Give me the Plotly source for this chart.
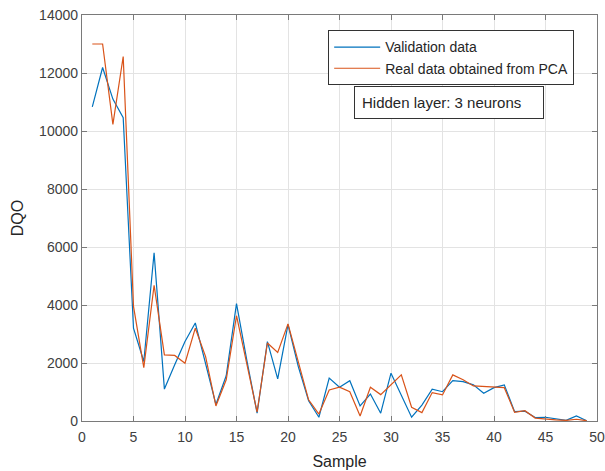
import plotly.graph_objects as go

samples = list(range(1, 50))
validation = [10830, 12190, 11100, 10460, 3200, 2050, 5800, 1100, 1940, 2740,
              3380, 2000, 570, 1560, 4045, 2100, 270, 2740, 1450, 3320,
              1880, 700, 130, 1480, 1165, 1390, 520, 930, 270, 1650,
              900, 130, 550, 1095, 1010, 1390, 1360, 1245, 960, 1150,
              1245, 320, 340, 120, 130, 80, 20, 175, 10]
real_pca = [13000, 13000, 10230, 12570, 3950, 1840, 4680, 2280, 2260, 1990,
            3200, 2220, 520, 1420, 3630, 1940, 310, 2690, 2360, 3350,
            2050, 730, 240, 1070, 1165, 1010, 175, 1165, 910, 1245,
            1590, 475, 290, 980, 900, 1590, 1420, 1210, 1190, 1150,
            1150, 300, 356, 100, 60, 40, 20, 60, 10]
x_ticks = list(range(0, 51, 5))
y_ticks = list(range(0, 14001, 2000))
y_tick_labels = [str(v) for v in y_ticks]

FONT = "Liberation Sans, Arial, sans-serif"
TXT = "#262626"
AX = "#7a7a7a"

fig = go.Figure()
fig.add_trace(go.Scatter(x=samples, y=validation, mode="lines",
                         name="Validation data",
                         line=dict(color="#0072BD", width=1.2)))
fig.add_trace(go.Scatter(x=samples, y=real_pca, mode="lines",
                         name="Real data obtained from PCA",
                         line=dict(color="#D95319", width=1.2)))

axis_common = dict(showline=True, linecolor=AX, linewidth=1.3, mirror="ticks",
                   ticks="inside", ticklen=5, tickcolor=AX,
                   showgrid=True, gridcolor="#e3e3e3", gridwidth=1,
                   zeroline=False, automargin=False,
                   tickfont=dict(family=FONT, size=14, color="#404040"))

fig.update_xaxes(range=[0, 50], tickvals=x_ticks, ticklabelstandoff=3,
                 title=dict(text="Sample", font=dict(family=FONT, size=16, color=TXT),
                            standoff=11),
                 **axis_common)
fig.update_yaxes(range=[0, 14000], tickvals=y_ticks, ticktext=y_tick_labels,
                 title=dict(text="DQO", font=dict(family=FONT, size=16, color=TXT),
                            standoff=11),
                 **axis_common)

fig.add_annotation(x=0.713, y=0.784, xref="paper", yref="paper",
                   text="Hidden layer: 3 neurons", showarrow=False,
                   font=dict(family=FONT, size=15, color=TXT),
                   bordercolor="#333333", borderwidth=1, borderpad=7,
                   bgcolor="white", width=174, height=17, align="left",
                   xanchor="center", yanchor="middle")

fig.update_layout(
    width=605, height=471,
    margin=dict(l=82, r=8, t=15, b=50),
    paper_bgcolor="white", plot_bgcolor="white",
    font=dict(family=FONT, color=TXT),
    showlegend=True,
    legend=dict(x=0.478, y=0.962, xanchor="left", yanchor="top",
                bgcolor="white", bordercolor="#333333", borderwidth=1,
                font=dict(family=FONT, size=14, color=TXT),
                itemwidth=46, tracegroupgap=0),
)

fig.write_html("out.html")
